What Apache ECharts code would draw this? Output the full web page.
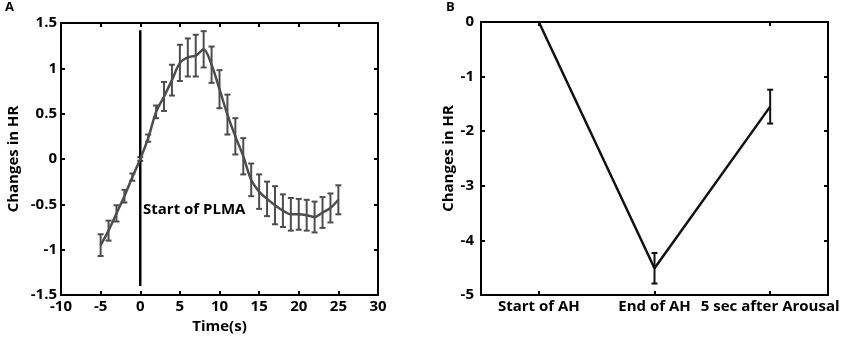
<!DOCTYPE html>
<html>
<head>
<meta charset="utf-8">
<script src="https://cdn.jsdelivr.net/npm/echarts@6/dist/echarts.min.js"></script>
<style>
html,body{margin:0;padding:0;background:#fff;}
#chart{width:850px;height:343px;}
</style>
</head>
<body>
<div id="chart"></div>
<script>
// panel A: HR change around PLMA onset
var time_s = [-5,-4,-3,-2,-1,0,1,2,3,4,5,6,7,8,9,10,11,12,13,14,15,16,17,18,19,20,21,22,23,24,25];
var hr_mean = [-0.95,-0.79,-0.60,-0.41,-0.20,0.00,0.23,0.52,0.69,0.87,1.06,1.12,1.14,1.21,1.04,0.77,0.49,0.25,0.03,-0.23,-0.36,-0.44,-0.51,-0.57,-0.61,-0.61,-0.62,-0.64,-0.59,-0.54,-0.45];
var hr_err = [0.12,0.11,0.09,0.07,0.04,0.02,0.04,0.07,0.16,0.17,0.20,0.21,0.23,0.20,0.20,0.21,0.22,0.20,0.20,0.18,0.19,0.19,0.21,0.18,0.18,0.17,0.17,0.17,0.17,0.16,0.16];
var plma_line = [[0,-1.4],[0,1.42]];
// panel B: HR change around apnea/hypopnea
var ah_cats = ["Start of AH","End of AH","5 sec after Arousal"];
var ah_mean = [0,-4.51,-1.55];
var ah_err = [0,0.28,0.31];

var font = "Open Sans";
var chart = echarts.init(document.getElementById("chart"));

function err_rows(xs, ys, es){
	var out = [];
	for(var i = 0; i < xs.length; i++){
		if(es[i] > 0){
			out.push([xs[i], ys[i]-es[i], ys[i]+es[i]]);
		}
	}
	return out;
}
function err_render(color, lw, cap){
	return function(params, api){
		var x = api.value(0);
		var lo = api.coord([x, api.value(1)]);
		var hi = api.coord([x, api.value(2)]);
		var st = {stroke: color, lineWidth: lw};
		return {type:"group", children:[
			{type:"line", shape:{x1:lo[0],y1:lo[1],x2:hi[0],y2:hi[1]}, style:st},
			{type:"line", shape:{x1:lo[0]-cap,y1:lo[1],x2:lo[0]+cap,y2:lo[1]}, style:st},
			{type:"line", shape:{x1:hi[0]-cap,y1:hi[1],x2:hi[0]+cap,y2:hi[1]}, style:st}
		]};
	};
}
function get_label(margin){
	return {show:true, margin:margin, interval:0, color:"#000", fontFamily:font, fontWeight:"bold", fontSize:15};
}
var line_a = [];
for(var i = 0; i < time_s.length; i++){ line_a.push([time_s[i], hr_mean[i]]); }

var axis_line = {show:true, onZero:false, lineStyle:{color:"#000", width:2}};
var tick_in = {show:true, inside:true, length:4, lineStyle:{color:"#000", width:2}};
var cat_tick = {show:true, inside:true, length:4, alignWithLabel:true, lineStyle:{color:"#000", width:2}};
var name_style = {color:"#000", fontFamily:font, fontWeight:"bold", fontSize:15};

var option = {
	animation:false,
	grid:[
		{left:61, top:23, width:317, height:272},
		{left:481, top:22, width:347, height:273}
	],
	xAxis:[
		{gridIndex:0, type:"value", min:-10, max:30, interval:5, position:"bottom",
		 axisLine:axis_line, axisTick:tick_in, splitLine:{show:false}, axisLabel:get_label(4),
		 name:"Time(s)", nameLocation:"middle", nameGap:24, nameTextStyle:name_style},
		{gridIndex:0, type:"value", min:-10, max:30, interval:5, position:"top",
		 axisLine:axis_line, axisTick:tick_in, splitLine:{show:false}, axisLabel:{show:false}},
		{gridIndex:1, type:"category", data:ah_cats, position:"bottom",
		 axisLine:axis_line, axisTick:cat_tick, axisLabel:get_label(4)},
		{gridIndex:1, type:"category", data:ah_cats, position:"top",
		 axisLine:axis_line, axisTick:cat_tick, axisLabel:{show:false}}
	],
	yAxis:[
		{gridIndex:0, type:"value", min:-1.5, max:1.5, interval:0.5, position:"left",
		 axisLine:axis_line, axisTick:tick_in, splitLine:{show:false}, axisLabel:get_label(4),
		 name:"Changes in HR", nameLocation:"middle", nameGap:40, nameTextStyle:name_style},
		{gridIndex:0, type:"value", min:-1.5, max:1.5, interval:0.5, position:"right",
		 axisLine:axis_line, axisTick:tick_in, splitLine:{show:false}, axisLabel:{show:false}},
		{gridIndex:1, type:"value", min:-5, max:0, interval:1, position:"left",
		 axisLine:axis_line, axisTick:tick_in, splitLine:{show:false}, axisLabel:get_label(7),
		 name:"Changes in HR", nameLocation:"middle", nameGap:22, nameTextStyle:name_style},
		{gridIndex:1, type:"value", min:-5, max:0, interval:1, position:"right",
		 axisLine:axis_line, axisTick:tick_in, splitLine:{show:false}, axisLabel:{show:false}}
	],
	graphic:[
		{type:"text", left:5, top:1, style:{text:"A", font:"bold 13px " + font, fill:"#000"}},
		{type:"text", left:446, top:1, style:{text:"B", font:"bold 13px " + font, fill:"#000"}},
		{type:"text", left:143, top:202, style:{text:"Start of PLMA", font:"bold 15px " + font, fill:"#000"}}
	],
	series:[
		{type:"line", xAxisIndex:0, yAxisIndex:0, data:plma_line, symbol:"none",
		 lineStyle:{color:"#000", width:2.5}, silent:true},
		{type:"line", xAxisIndex:0, yAxisIndex:0, data:line_a, symbol:"none", smooth:0.3,
		 lineStyle:{color:"#4d4d4d", width:2.5}},
		{type:"custom", xAxisIndex:0, yAxisIndex:0, data:err_rows(time_s, hr_mean, hr_err),
		 renderItem:err_render("#4d4d4d", 2, 3), z:3},
		{type:"line", xAxisIndex:2, yAxisIndex:2, data:ah_mean, symbol:"none",
		 lineStyle:{color:"#111", width:2.5}},
		{type:"custom", xAxisIndex:2, yAxisIndex:2,
		 data:err_rows([0,1,2], ah_mean, ah_err),
		 renderItem:err_render("#111", 2, 3), z:3}
	]
};
chart.setOption(option);
</script>
</body>
</html>
